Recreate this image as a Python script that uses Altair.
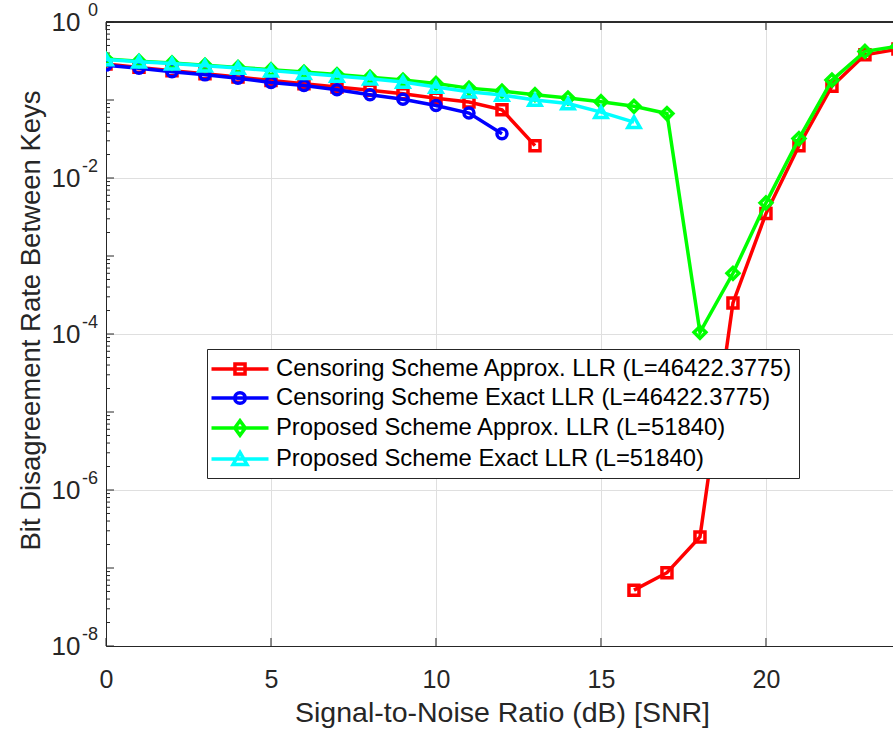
import altair as alt
import pandas as pd

# ---------------- data ----------------
S1 = "Censoring Scheme Approx. LLR (L=46422.3775)"
S2 = "Censoring Scheme Exact LLR (L=46422.3775)"
S3 = "Proposed Scheme Approx. LLR (L=51840)"
S4 = "Proposed Scheme Exact LLR (L=51840)"
series_names = [S1, S2, S3, S4]
colors = ["#FF0000", "#0000FF", "#00FF00", "#00FFFF"]
shapes = ["square", "circle", "diamond", "triangle-up"]
marker_sizes = [100, 100, 140, 150]

red_snr_a = [0, 1, 2, 3, 4, 5, 6, 7, 8, 9, 10, 11, 12, 13]
red_ber_a = [0.29, 0.262, 0.238, 0.217, 0.197, 0.178, 0.162, 0.147, 0.133, 0.12, 0.105, 0.094, 0.075, 0.026]
red_snr_b = [16, 17, 18, 19, 20, 21, 22, 23, 24]
red_ber_b = [5.2e-8, 8.7e-8, 2.5e-7, 2.5e-4, 3.5e-3, 0.026, 0.15, 0.38, 0.45]

blue_snr = [0, 1, 2, 3, 4, 5, 6, 7, 8, 9, 10, 11, 12]
blue_ber = [0.28, 0.255, 0.23, 0.21, 0.19, 0.168, 0.153, 0.135, 0.117, 0.102, 0.085, 0.068, 0.037]

green_snr = [0, 1, 2, 3, 4, 5, 6, 7, 8, 9, 10, 11, 12, 13, 14, 15, 16, 17, 18, 19, 20, 21, 22, 23, 24]
green_ber = [0.335, 0.315, 0.298, 0.28, 0.262, 0.245, 0.228, 0.212, 0.196, 0.18, 0.163, 0.142, 0.13, 0.117,
             0.106, 0.095, 0.083, 0.067, 1.05e-4, 6e-4, 4.8e-3, 0.032, 0.18, 0.42, 0.49]

cyan_snr = [0, 1, 2, 3, 4, 5, 6, 7, 8, 9, 10, 11, 12, 13, 14, 15, 16]
cyan_ber = [0.33, 0.31, 0.293, 0.275, 0.257, 0.238, 0.22, 0.203, 0.187, 0.17, 0.147, 0.128, 0.116, 0.1, 0.09, 0.07, 0.052]

x_ticks = [0, 5, 10, 15, 20]
y_label_ticks = [1e0, 1e-2, 1e-4, 1e-6, 1e-8]
y_exponents = ["0", "-2", "-4", "-6", "-8"]
y_decades = [1e0, 1e-1, 1e-2, 1e-3, 1e-4, 1e-5, 1e-6, 1e-7, 1e-8]
y_minor = [m * d for d in y_decades[1:] for m in range(2, 10)]

rows = []
for s, seg, xs, ys in [(S1, "a", red_snr_a, red_ber_a), (S1, "b", red_snr_b, red_ber_b),
                       (S2, "a", blue_snr, blue_ber), (S3, "a", green_snr, green_ber),
                       (S4, "a", cyan_snr, cyan_ber)]:
    for x, y in zip(xs, ys):
        rows.append({"series": s, "seg": seg, "snr": x, "ber": y})
df = pd.DataFrame(rows)

# ---------------- layout ----------------
W, H = 787, 624
FONT = "Liberation Sans"
AX = "#262626"
LW = 3.5

xscale = alt.Scale(domain=[0, 23.85], nice=False, zero=False)
yscale = alt.Scale(type="log", domain=[1e-8, 1], nice=False)
colscale = alt.Scale(domain=series_names, range=colors)
shapescale = alt.Scale(domain=series_names, range=shapes)

xaxis = alt.Axis(values=x_ticks, tickSize=0, labelFontSize=25, labelPadding=21, labelColor=AX,
                 labelFlush=False,
                 grid=True, gridColor="#dfdfdf", domainColor=AX, domainWidth=1,
                 title="Signal-to-Noise Ratio (dB) [SNR]", titleFontSize=28.5, titleFontWeight="normal",
                 titleColor=AX, titleX=396, titleY=66, titleBaseline="middle", titleAlign="center")
yaxis = alt.Axis(values=y_label_ticks, labelExpr="'10'", tickSize=0, labelFontSize=26, labelPadding=26,
                 labelColor=AX, labelBaseline="middle", labelFlush=False,
                 grid=True, gridColor="#dfdfdf", domainColor=AX, domainWidth=1,
                 title="Bit Disagreement Rate Between Keys", titleFontSize=27.5, titleFontWeight="normal",
                 titleColor=AX, titleX=-75, titleY=298, titleAngle=-90, titleBaseline="middle",
                 titleAlign="center")


def X(f):
    return alt.X(f, type="quantitative", scale=xscale, axis=xaxis)


def Y(f):
    return alt.Y(f, type="quantitative", scale=yscale, axis=yaxis)


# legend symbols: a horizontal line with the series marker (units: 12 px)
legend_paths = [
    "M-2.375,0H2.375M-0.42,-0.42H0.42V0.42H-0.42Z",
    "M-2.375,0H2.375M-0.44,0A0.44,0.44 0 1,0 0.44,0A0.44,0.44 0 1,0 -0.44,0",
    "M-2.375,0H2.375M0,-0.6L0.44,0L0,0.6L-0.44,0Z",
    "M-2.375,0H2.375M0,-0.55L0.58,0.45L-0.58,0.45Z",
]
legend_shape_scale = alt.Scale(domain=series_names, range=legend_paths)

legend = alt.Legend(title=None, orient="none", legendX=101, legendY=327, direction="vertical",
                    fillColor="white", strokeColor=AX, padding=6, rowPadding=2,
                    labelFontSize=23.8, labelFont=FONT, labelColor="black", labelLimit=0,
                    symbolSize=576, symbolStrokeWidth=LW, labelOffset=22, symbolOffset=13,
                    symbolOpacity=1, cornerRadius=0)

ticks_major = pd.DataFrame({"v": y_decades})
ticks_minor = pd.DataFrame({"v": y_minor})
xt = pd.DataFrame({"v": x_ticks})
exps = pd.DataFrame({"v": y_label_ticks, "t": y_exponents})

layers = []
layers.append(alt.Chart(ticks_major).mark_rule(color=AX, strokeWidth=1).encode(
    y=Y("v"), x=alt.value(0), x2=alt.value(8)))
layers.append(alt.Chart(ticks_minor).mark_rule(color=AX, strokeWidth=1).encode(
    y=Y("v"), x=alt.value(0), x2=alt.value(4)))
layers.append(alt.Chart(xt).mark_rule(color=AX, strokeWidth=1).encode(
    x=X("v"), y=alt.value(H), y2=alt.value(H - 8)))
layers.append(alt.Chart(xt).mark_rule(color=AX, strokeWidth=1).encode(
    x=X("v"), y=alt.value(0), y2=alt.value(8)))
layers.append(alt.Chart(xt).mark_rule(color=AX, strokeWidth=1).encode(
    x=alt.value(0), x2=alt.value(W), y=alt.value(0)))
layers.append(alt.Chart(exps).mark_text(align="right", baseline="middle", fontSize=18, font=FONT,
                                        color=AX, dy=-11).encode(
    y=Y("v"), x=alt.value(-8), text="t:N"))

for s, sz in zip(series_names, marker_sizes):
    sub = alt.Chart(df).transform_filter(alt.datum.series == s)
    layers.append(sub.mark_line(strokeWidth=LW, clip=True).encode(
        x=X("snr"), y=Y("ber"),
        color=alt.Color("series:N", scale=colscale, legend=None),
        detail="seg:N"))
    layers.append(sub.mark_point(filled=False, strokeWidth=LW, size=sz, clip=True, opacity=1).encode(
        x=X("snr"), y=Y("ber"),
        color=alt.Color("series:N", scale=colscale, legend=None),
        shape=alt.Shape("series:N", scale=shapescale, legend=None)))

# invisible layer that only provides the legend (line + marker symbols)
layers.append(alt.Chart(df).mark_point(filled=False, strokeWidth=LW, size=576, opacity=0, clip=True).encode(
    x=X("snr"), y=Y("ber"),
    color=alt.Color("series:N", scale=colscale, legend=legend),
    shape=alt.Shape("series:N", scale=legend_shape_scale, legend=legend)))

chart = alt.layer(*layers).resolve_scale(color="independent", shape="independent").properties(
    width=W, height=H,
    autosize=alt.AutoSizeParams(type="none"),
    padding={"left": 106, "top": 22, "right": 0, "bottom": 86},
    background="white",
).configure(font=FONT).configure_view(stroke=None)

chart.save("out.html", embed_options={"renderer": "svg", "actions": False})
